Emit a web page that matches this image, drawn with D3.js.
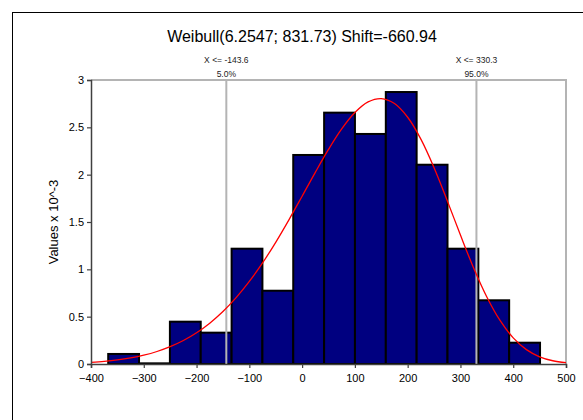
<!DOCTYPE html>
<html>
<head>
<meta charset="utf-8">
<script src="https://cdn.jsdelivr.net/npm/d3@7"></script>
<style>
  html, body { margin: 0; padding: 0; background: #fff; }
  svg { display: block; font-family: "Liberation Sans", Arial, sans-serif; }
</style>
</head>
<body>
<svg id="chart" width="583" height="420"></svg>
<script>
// Histogram bins (left edge, right edge) and density values (x 10^-3)
const binStarts = [-367.4, -309.0, -250.5, -192.1, -133.6, -75.2, -16.8, 41.7, 100.1, 158.6, 217.0, 275.5, 333.9, 392.3];
const binEnds   = [-309.0, -250.5, -192.1, -133.6, -75.2, -16.8, 41.7, 100.1, 158.6, 217.0, 275.5, 333.9, 392.3, 450.8];
const binValues = [0.106, 0.007, 0.447, 0.331, 1.218, 0.774, 2.208, 2.655, 2.430, 2.873, 2.105, 1.218, 0.673, 0.225];

// Fitted density curve, sampled points (x, value x 10^-3)
const curveX = [-400, -375, -350, -325, -300, -275, -250, -225, -200, -175, -150, -125, -100, -75, -50, -25,
                0, 25, 50, 75, 100, 125, 150, 175, 200, 225, 250, 275, 300, 325, 350, 375, 400, 425, 450, 475, 500];
const curveY = [0.017, 0.0275, 0.0427, 0.0640, 0.0931, 0.1320, 0.1828, 0.2480, 0.3299, 0.4313, 0.5542, 0.7006, 0.8717,
                1.0673, 1.2857, 1.5230, 1.7725, 2.0247, 2.2666, 2.4830, 2.6560, 2.7684, 2.8039, 2.7512, 2.6063, 2.3751,
                2.0734, 1.7254, 1.3618, 1.0138, 0.7075, 0.4598, 0.2761, 0.1521, 0.0762, 0.0344, 0.0138];

// Percentile markers
const markerX      = [-143.6, 330.3];
const markerLabels = ["X <= -143.6", "X <= 330.3"];
const markerPcts   = ["5.0%", "95.0%"];

const xTicks = [-400, -300, -200, -100, 0, 100, 200, 300, 400, 500];
const yTicks = [0, 0.5, 1, 1.5, 2, 2.5, 3];

const titleText = "Weibull(6.2547; 831.73) Shift=-660.94";
const yAxisTitle = "Values x 10^-3";

const svg = d3.select("#chart");
const plot = { left: 91, right: 566, top: 80, bottom: 364 };

const x = d3.scaleLinear().domain([-400, 500]).range([plot.left, plot.right]);
const y = d3.scaleLinear().domain([0, 3]).range([plot.bottom, plot.top]);

// Outer frame
svg.append("rect")
  .attr("x", 12.5).attr("y", 12.5)
  .attr("width", 600).attr("height", 440)
  .attr("fill", "none").attr("stroke", "#000").attr("stroke-width", 1);

// Title
svg.append("text")
  .attr("x", 302).attr("y", 42)
  .attr("text-anchor", "middle")
  .attr("font-size", 16)
  .attr("fill", "#000")
  .text(titleText);

// Plot area top/right border
svg.append("path")
  .attr("d", `M${plot.left},${plot.top}H${plot.right}V${plot.bottom}`)
  .attr("fill", "none").attr("stroke", "#b4b4b4").attr("stroke-width", 2);

// Bars
const bins = binValues.map((v, i) => ({ x0: binStarts[i], x1: binEnds[i], v }));
svg.append("g").selectAll("rect")
  .data(bins)
  .join("rect")
  .attr("x", d => x(d.x0))
  .attr("y", d => y(d.v))
  .attr("width", d => x(d.x1) - x(d.x0))
  .attr("height", d => y(0) - y(d.v))
  .attr("fill", "#000080")
  .attr("stroke", "#000")
  .attr("stroke-width", 2);

// Percentile marker lines and labels
markerX.forEach((mx, i) => {
  svg.append("line")
    .attr("x1", x(mx)).attr("x2", x(mx))
    .attr("y1", plot.top).attr("y2", plot.bottom)
    .attr("stroke", "#b4b4b4").attr("stroke-width", 2);
  svg.append("text")
    .attr("x", x(mx)).attr("y", 63)
    .attr("text-anchor", "middle").attr("font-size", 8.5).attr("fill", "#222")
    .text(markerLabels[i]);
  svg.append("text")
    .attr("x", x(mx)).attr("y", 77)
    .attr("text-anchor", "middle").attr("font-size", 8.5).attr("fill", "#222")
    .text(markerPcts[i]);
});

// Fitted curve
const pts = curveX.map((cx, i) => [cx, curveY[i]]);
svg.append("path")
  .datum(pts)
  .attr("d", d3.line().x(d => x(d[0])).y(d => y(d[1])).curve(d3.curveCatmullRom))
  .attr("fill", "none")
  .attr("stroke", "#ff0000")
  .attr("stroke-width", 1.3);

// Axes
const xAxis = svg.append("g")
  .attr("transform", `translate(0,${plot.bottom})`)
  .call(d3.axisBottom(x).tickValues(xTicks).tickSize(4).tickPadding(6).tickFormat(d3.format("d")));
const yAxis = svg.append("g")
  .attr("transform", `translate(${plot.left},0)`)
  .call(d3.axisLeft(y).tickValues(yTicks).tickSize(4).tickPadding(3).tickFormat(d => String(d)));

[xAxis, yAxis].forEach(g => {
  g.select(".domain").attr("stroke", "#404040").attr("stroke-width", 1.5);
  g.selectAll(".tick line").attr("stroke", "#404040").attr("stroke-width", 1.2);
  g.selectAll(".tick text").attr("font-size", 11).attr("fill", "#000")
    .attr("font-family", "'Liberation Sans', Arial, sans-serif");
});

// Y axis title
svg.append("text")
  .attr("transform", `translate(58,${(plot.top + plot.bottom) / 2}) rotate(-90)`)
  .attr("text-anchor", "middle")
  .attr("font-size", 13)
  .attr("fill", "#000")
  .text(yAxisTitle);
</script>
</body>
</html>
